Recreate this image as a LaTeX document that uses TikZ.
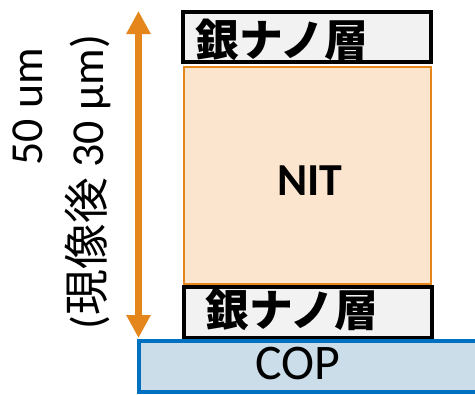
\documentclass[tikz,border=0pt]{standalone}
\usepackage{fontspec}
\setmainfont{Carlito}
\newfontfamily\cjk{Noto Sans CJK JP}
\usetikzlibrary{arrows.meta}
\definecolor{silverfill}{HTML}{F2F2F2}
\definecolor{nitfill}{HTML}{FBE5CE}
\definecolor{nitline}{HTML}{E5861C}
\definecolor{copfill}{HTML}{CADDE9}
\definecolor{copline}{HTML}{0070C0}
\tikzset{
  layer/.style={draw=black, line width=3.2bp, fill=silverfill},
  nitbox/.style={draw=nitline, line width=2.6bp, fill=nitfill},
  copbox/.style={draw=copline, line width=3.2bp, fill=copfill},
  lbl/.style={inner sep=0pt, anchor=center},
}
\begin{document}
\begin{tikzpicture}[x=1bp,y=-1bp]
\useasboundingbox (0,0) rectangle (475,394);
\fill[white] (0,0) rectangle (475,394);
% layers
\draw[layer] (183,12) rectangle (431,62);
\draw[nitbox] (184,67) rectangle (431,284);
\draw[layer] (184,287) rectangle (432,338);
\draw[copbox] (139,341) rectangle (485,392);
\node[lbl] (ag1) at (282,40) {\cjk\bfseries\fontsize{44}{44}\selectfont 銀ナノ層};
\node[lbl] (nit) at (310,181) {\bfseries\fontsize{46}{46}\selectfont NIT};
\node[lbl] (ag2) at (292,310) {\cjk\bfseries\fontsize{44}{44}\selectfont 銀ナノ層};
\node[lbl] (cop) at (298,363) {\fontsize{50}{50}\selectfont COP};
% arrow
\coordinate (atop) at (138.5,11);
\coordinate (abot) at (138.5,338);
\draw[nitline, line width=7bp, {Triangle[width=23bp,length=23bp]}-{Triangle[width=23bp,length=23bp]}] (atop) -- (abot);
% rotated labels
\node[lbl, rotate=90] (t1) at (28,107) {\fontsize{46}{46}\selectfont 50 um};
\node[lbl, rotate=90] (t2) at (88,182) {\fontsize{46}{46}\selectfont ({\cjk 現像後} 30 μm)};
\end{tikzpicture}
\end{document}
